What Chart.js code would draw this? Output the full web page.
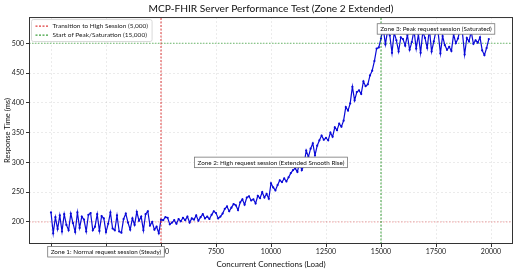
<!DOCTYPE html>
<html>
<head>
<meta charset="utf-8">
<title>MCP-FHIR Server Performance Test</title>
<script src="https://cdn.jsdelivr.net/npm/chart.js@4.4.0/dist/chart.umd.min.js"></script>
<style>
  html, body { margin: 0; padding: 0; background: #fff; }
  #wrap { width: 517px; height: 272px; position: relative; }
</style>
</head>
<body>
<div id="wrap"><canvas id="perfChart"></canvas></div>
<script>
// Beban (jumlah koneksi) per titik pengukuran
const connections = [
    0, 100, 200, 300, 400, 500, 600, 700, 800, 900,
    1000, 1100, 1200, 1300, 1400, 1500, 1600, 1700, 1800, 1900,
    2000, 2100, 2200, 2300, 2400, 2500, 2600, 2700, 2800, 2900,
    3000, 3100, 3200, 3300, 3400, 3500, 3600, 3700, 3800, 3900,
    4000, 4100, 4200, 4300, 4400, 4500, 4600, 4700, 4800, 4900,
    5000, 5100, 5200, 5300, 5400, 5500, 5600, 5700, 5800, 5900,
    6000, 6100, 6200, 6300, 6400, 6500, 6600, 6700, 6800, 6900,
    7000, 7100, 7200, 7300, 7400, 7500, 7600, 7700, 7800, 7900,
    8000, 8100, 8200, 8300, 8400, 8500, 8600, 8700, 8800, 8900,
    9000, 9100, 9200, 9300, 9400, 9500, 9600, 9700, 9800, 9900,
    10000, 10100, 10200, 10300, 10400, 10500, 10600, 10700, 10800, 10900,
    11000, 11100, 11200, 11300, 11400, 11500, 11600, 11700, 11800, 11900,
    12000, 12100, 12200, 12300, 12400, 12500, 12600, 12700, 12800, 12900,
    13000, 13100, 13200, 13300, 13400, 13500, 13600, 13700, 13800, 13900,
    14000, 14100, 14200, 14300, 14400, 14500, 14600, 14700, 14800, 14900,
    15000, 15100, 15200, 15300, 15400, 15500, 15600, 15700, 15800, 15900,
    16000, 16100, 16200, 16300, 16400, 16500, 16600, 16700, 16800, 16900,
    17000, 17100, 17200, 17300, 17400, 17500, 17600, 17700, 17800, 17900,
    18000, 18100, 18200, 18300, 18400, 18500, 18600, 18700, 18800, 18900,
    19000, 19100, 19200, 19300, 19400, 19500, 19600, 19700, 19800, 19900
];

// Zona 1: sesi normal (0 - 4900)
const zone1Times = [
    216, 181, 208, 188, 211, 184, 213, 195, 186, 214,
    198, 183, 216, 190, 209, 204, 184, 212, 215, 186,
    192, 213, 185, 210, 206, 183, 197, 216, 189, 186,
    211, 184, 182, 205, 214, 199, 187, 206, 195, 217,
    202, 209, 186, 213, 218, 194, 200, 187, 192, 181
];

// Zona 2: kenaikan bertahap (5000 - 14900)
const zone2Times = [
    204, 203, 208, 207, 196, 199, 203, 197, 205, 201,
    207, 203, 209, 199, 206, 204, 211, 202, 208, 213,
    206, 209, 205, 212, 218, 215, 206, 209, 214, 222,
    226, 218, 224, 230, 228, 220, 233, 238, 229, 241,
    243, 236, 238, 231, 244, 240, 250, 241, 247, 239,
    265, 258, 253, 262, 270, 267, 273, 268, 275, 282,
    287, 290, 284, 300, 287, 296, 320, 309, 323, 332,
    312, 328, 337, 345, 338, 341, 337, 350, 343, 359,
    354, 365, 360, 370, 393, 387, 399, 427, 404, 418,
    421, 415, 436, 428, 431, 446, 454, 470, 491, 493
];

// Zona 3: saturasi (15000 - 19900)
const zone3Times = [
    508, 526, 498, 521, 513, 484, 518, 505, 486, 510,
    507, 496, 514, 489, 502, 522, 491, 515, 484, 519,
    509, 492, 524, 486, 503, 521, 517, 483, 512, 497,
    489, 494, 487, 515, 500, 508, 525, 518, 481, 509,
    503, 520, 499, 505, 501, 510, 488, 480, 492, 507
];

const responseTimes = zone1Times.concat(zone2Times, zone3Times);

// Label sumbu
const xTicks = [0, 2500, 5000, 7500, 10000, 12500, 15000, 17500, 20000];
const yTicks = [200, 250, 300, 350, 400, 450, 500];

// Garis referensi
const transitionLoad = 5000;
const peakLoad = 15000;
const normalLevel = 200;
const peakLevel = 500;

// Teks anotasi zona: [x, y, teks]
const zoneNotes = [
    [2500, 150, 'Zone 1: Normal request session (Steady)'],
    [10000, 300, 'Zone 2: High request session (Extended Smooth Rise)'],
    [17500, 524, 'Zone 3: Peak request session (Saturated)']
];

const X_MIN = -1000, X_MAX = 21000;
const Y_MIN = 163, Y_MAX = 544;
const FONT = 'Lato, "Open Sans", sans-serif';

document.addEventListener('DOMContentLoaded', function() {
    const ctx = document.getElementById('perfChart').getContext('2d');

    const points = connections.map((c, i) => ({ x: c, y: responseTimes[i] }));

    // Plugin kecil: bingkai, legenda di dalam area, dan kotak anotasi
    const decorPlugin = {
        id: 'decor',
        afterDraw(chart) {
            const c = chart.ctx;
            const area = chart.chartArea;
            const xs = chart.scales.x, ys = chart.scales.y;

            // bingkai plot
            c.save();
            c.strokeStyle = '#333';
            c.lineWidth = 1;
            c.strokeRect(area.left + 0.5, area.top + 0.5, area.right - area.left - 1, area.bottom - area.top - 1);
            c.restore();

            // legenda
            const items = chart.data.datasets.filter(d => d.inLegend);
            c.save();
            c.font = '6.5px ' + FONT;
            let w = 0;
            items.forEach(d => { w = Math.max(w, c.measureText(d.label).width); });
            const bx = area.left + 2.5, by = area.top + 2.5;
            const bw = w + 25, bh = items.length * 9 + 4;
            c.fillStyle = 'rgba(255,255,255,0.85)';
            c.strokeStyle = '#cfcfcf';
            c.lineWidth = 0.8;
            c.beginPath();
            c.roundRect(bx, by, bw, bh, 2);
            c.fill();
            c.stroke();
            items.forEach((d, i) => {
                const ly = by + 6.5 + i * 9;
                c.strokeStyle = d.borderColor;
                c.lineWidth = 1.2;
                c.setLineDash(d.borderDash);
                c.beginPath();
                c.moveTo(bx + 4, ly);
                c.lineTo(bx + 17, ly);
                c.stroke();
                c.setLineDash([]);
                c.fillStyle = '#222';
                c.textBaseline = 'middle';
                c.fillText(d.label, bx + 21, ly);
            });
            c.restore();

            // anotasi zona
            c.save();
            c.font = '6.3px ' + FONT;
            c.textBaseline = 'middle';
            c.textAlign = 'center';
            zoneNotes.forEach(n => {
                const px = xs.getPixelForValue(n[0]);
                const py = ys.getPixelForValue(n[1]);
                const tw = c.measureText(n[2]).width;
                const rw = tw + 6, rh = 10.5;
                c.fillStyle = '#fff';
                c.strokeStyle = '#777';
                c.lineWidth = 0.8;
                c.fillRect(px - rw / 2, py - rh / 2, rw, rh);
                c.strokeRect(px - rw / 2, py - rh / 2, rw, rh);
                c.fillStyle = '#111';
                c.fillText(n[2], px, py + 0.3);
            });
            c.restore();
        }
    };

    const refLine = (data, color, dash, label, inLegend, order) => ({
        label: label,
        data: data,
        borderColor: color,
        borderWidth: 1,
        borderDash: dash,
        pointRadius: 0,
        fill: false,
        inLegend: inLegend,
        order: order
    });

    window.perfChart = new Chart(ctx, {
        type: 'line',
        data: {
            datasets: [
                {
                    label: 'Response Time',
                    data: points,
                    borderColor: '#0a0ad8',
                    backgroundColor: '#0a0ad8',
                    borderWidth: 1.2,
                    pointRadius: 1.1,
                    pointBorderWidth: 0,
                    tension: 0,
                    order: 2
                },
                refLine([{ x: transitionLoad, y: Y_MIN }, { x: transitionLoad, y: Y_MAX }],
                    'rgba(220,40,40,0.9)', [2, 1.5], 'Transition to High Session (5,000)', true, 1),
                refLine([{ x: peakLoad, y: Y_MIN }, { x: peakLoad, y: Y_MAX }],
                    'rgba(40,150,40,0.9)', [2, 1.5], 'Start of Peak/Saturation (15,000)', true, 1),
                refLine([{ x: X_MIN, y: normalLevel }, { x: X_MAX, y: normalLevel }],
                    'rgba(230,80,80,0.5)', [1.5, 1.5], 'normal', false, 3),
                refLine([{ x: X_MIN, y: peakLevel }, { x: X_MAX, y: peakLevel }],
                    'rgba(50,160,50,0.7)', [1.5, 1.5], 'peak', false, 3)
            ]
        },
        options: {
            responsive: true,
            maintainAspectRatio: false,
            animation: false,
            layout: { padding: { left: 0, right: 0, top: 0, bottom: 0 } },
            plugins: {
                legend: { display: false },
                tooltip: { enabled: false },
                title: {
                    display: true,
                    fullSize: false,
                    text: 'MCP-FHIR Server Performance Test (Zone 2 Extended)',
                    color: '#111',
                    font: { family: FONT, size: 10.2, weight: 'normal' },
                    padding: { top: 2.5, bottom: 2.3 }
                }
            },
            scales: {
                x: {
                    type: 'linear',
                    min: X_MIN,
                    max: X_MAX,
                    afterBuildTicks: s => { s.ticks = xTicks.map(v => ({ value: v })); },
                    afterFit: s => { s.height = 28; },
                    ticks: {
                        color: '#222',
                        font: { family: FONT, size: 7 },
                        padding: 1,
                        maxRotation: 0,
                        callback: v => String(v)
                    },
                    grid: { color: 'rgba(0,0,0,0.08)', tickColor: '#333', tickLength: 3 },
                    border: { display: false, dash: [2, 2] },
                    title: {
                        display: true,
                        text: 'Concurrent Connections (Load)',
                        color: '#111',
                        font: { family: FONT, size: 8 },
                        padding: { top: 0, bottom: 3 }
                    }
                },
                y: {
                    min: Y_MIN,
                    max: Y_MAX,
                    afterBuildTicks: s => { s.ticks = yTicks.map(v => ({ value: v })); },
                    afterFit: s => { s.width = 29; },
                    ticks: {
                        color: '#222',
                        font: { family: FONT, size: 7 },
                        padding: 2,
                        callback: v => String(v)
                    },
                    grid: { color: 'rgba(0,0,0,0.08)', tickColor: '#333', tickLength: 3 },
                    border: { display: false, dash: [2, 2] },
                    title: {
                        display: true,
                        text: 'Response Time (ms)',
                        color: '#111',
                        font: { family: FONT, size: 7.5 },
                        padding: { top: 3.5, bottom: 0 }
                    }
                }
            }
        },
        plugins: [decorPlugin]
    });
});
</script>
</body>
</html>
